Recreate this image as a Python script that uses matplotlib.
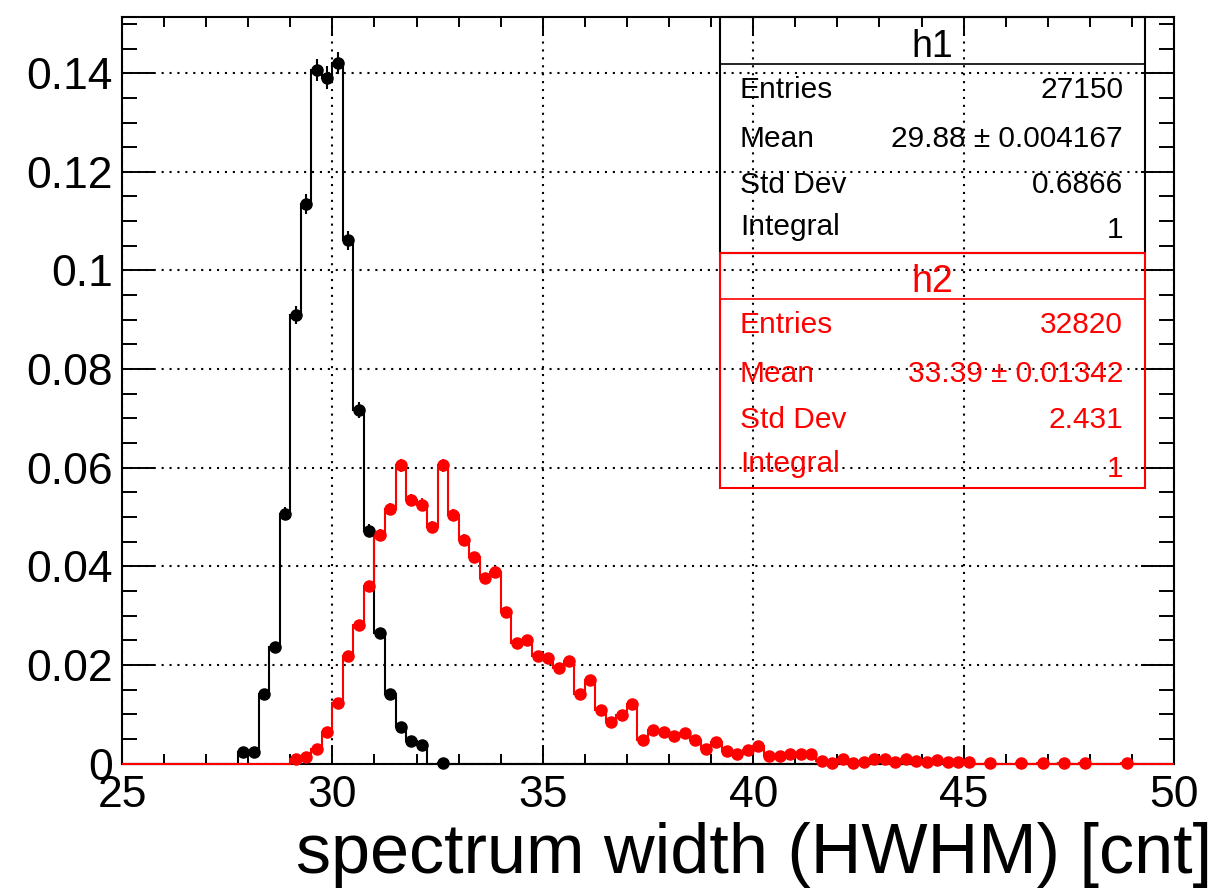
import numpy as np
import matplotlib
matplotlib.use('Agg')
import matplotlib.pyplot as plt
from matplotlib.ticker import MultipleLocator, FixedLocator, FixedFormatter
from matplotlib.patches import Rectangle
from matplotlib.lines import Line2D

plt.rcParams['font.family'] = ['Liberation Sans', 'DejaVu Sans']

W, H = 1220, 889

# ---------------- data ----------------
x_low, x_high, n_bins = 25.0, 50.0, 100

h1_first_bin = 11
h1_contents = [0.0023, 0.0023, 0.0140, 0.0236, 0.0507, 0.0909, 0.1135, 0.1406,
               0.1391, 0.1421, 0.1061, 0.0717, 0.0472, 0.0264, 0.0140, 0.0074,
               0.0045, 0.0037, 0.0, 0.00004]
h1_entries = 27150

h2_first_bin = 16
h2_contents = [0.0010, 0.0014, 0.0030, 0.0064, 0.0122, 0.0219, 0.0281, 0.0360,
               0.0463, 0.0516, 0.0605, 0.0534, 0.0525, 0.0479, 0.0605, 0.0504,
               0.0454, 0.0418, 0.0376, 0.0389, 0.0308, 0.0245, 0.0250, 0.0219,
               0.0213, 0.0193, 0.0208, 0.0140, 0.0169, 0.0108, 0.0084, 0.0098,
               0.0120, 0.0047, 0.0068, 0.0064, 0.0055, 0.0062, 0.0047, 0.0030,
               0.0043, 0.0025, 0.0020, 0.0028, 0.0035, 0.0016, 0.0015, 0.0020,
               0.0020, 0.0020, 0.0006, 0.0002, 0.0009, 0.0002, 0.0003, 0.0009,
               0.0009, 0.0003, 0.0009, 0.0006, 0.0003, 0.0007, 0.0003, 0.0003,
               0.0003, 0.0, 0.0001, 0.0, 0.0, 0.0001, 0.0, 0.0001, 0.0, 0.0001,
               0.0, 0.0001, 0.0, 0.0, 0.0, 0.0001]
h2_entries = 32820

x_ticks = [25, 30, 35, 40, 45, 50]
x_tick_labels = ['25', '30', '35', '40', '45', '50']
y_ticks = [0, 0.02, 0.04, 0.06, 0.08, 0.10, 0.12, 0.14]
y_tick_labels = ['0', '0.02', '0.04', '0.06', '0.08', '0.1', '0.12', '0.14']
x_title = 'spectrum width (HWHM) [cnt]'

stats_h1_name = 'h1'
stats_h1_rows = [('Entries', '27150'), ('Mean', '29.88 ± 0.004167'),
                 ('Std Dev', '0.6866'), ('Integral', '1')]
stats_h2_name = 'h2'
stats_h2_rows = [('Entries', '32820'), ('Mean', '33.39 ± 0.01342'),
                 ('Std Dev', '2.431'), ('Integral', '1')]

# ---------------- build histograms ----------------
edges = np.linspace(x_low, x_high, n_bins + 1)
centers = 0.5 * (edges[:-1] + edges[1:])


def full(first, contents):
    arr = np.zeros(n_bins)
    arr[first:first + len(contents)] = contents
    return arr


h1 = full(h1_first_bin, h1_contents)
h2 = full(h2_first_bin, h2_contents)
e1 = np.sqrt(h1 / h1_entries)
e2 = np.sqrt(h2 / h2_entries)


def fx(px):
    return px / W


def fy(py):
    return 1 - py / H


fig = plt.figure(figsize=(W / 100, H / 100), dpi=100)
ax_l, ax_r, ax_t, ax_b = 122, 1174, 17, 763.5
ax = fig.add_axes([fx(ax_l), fy(ax_b), (ax_r - ax_l) / W, (ax_b - ax_t) / H])

ax.set_xlim(x_low, x_high)
ax.set_ylim(0, 0.1514)

ax.grid(True, which='major', color='black', linestyle=(0, (1.0, 2.8)),
        linewidth=1.5)
ax.set_axisbelow(True)

for hist, err, col in [(h1, e1, 'black'), (h2, e2, '#ff0000')]:
    ax.stairs(hist, edges, color=col, linewidth=1.5, baseline=0,
              zorder=3, clip_on=False)
    m = hist > 0
    ax.errorbar(centers[m], hist[m], yerr=err[m], fmt='o', ms=8,
                color=col, mec=col, mfc=col, elinewidth=1.5, capsize=0,
                zorder=4, clip_on=False)

for s in ax.spines.values():
    s.set_linewidth(1.5)
    s.set_zorder(2.5)

ax.xaxis.set_major_locator(FixedLocator(x_ticks))
ax.xaxis.set_major_formatter(FixedFormatter(x_tick_labels))
ax.xaxis.set_minor_locator(MultipleLocator(1))
ax.yaxis.set_major_locator(FixedLocator(y_ticks))
ax.yaxis.set_major_formatter(FixedFormatter(y_tick_labels))
ax.yaxis.set_minor_locator(MultipleLocator(0.005))

ax.tick_params(which='both', direction='in', top=True, right=True, width=1.4,
               labelsize=32, colors='black')
ax.tick_params(axis='x', which='major', length=13.7, pad=8.3)
ax.tick_params(axis='x', which='minor', length=7)
ax.tick_params(axis='y', which='major', length=23.5, pad=6.5)
ax.tick_params(axis='y', which='minor', length=11)

fig.text(fx(1212), fy(873), x_title, ha='right', va='baseline', fontsize=50.5)

# ---------------- stats boxes ----------------
box_l, box_r = 720, 1145


def stats_box(top, title_line, bottom, col, name, rows, title_base,
              left_bases, right_bases):
    fig.add_artist(Rectangle((fx(box_l), fy(bottom)), (box_r - box_l) / W,
                             (bottom - top) / H, transform=fig.transFigure,
                             fill=False, edgecolor=col, linewidth=1.5,
                             zorder=5))
    fig.add_artist(Line2D([fx(box_l), fx(box_r)], [fy(title_line)] * 2,
                          transform=fig.transFigure, color=col,
                          linewidth=1.2, zorder=5))
    fig.text(fx((box_l + box_r) / 2), fy(title_base), name, ha='center',
             va='baseline', fontsize=27, color=col, zorder=6)
    for (lab, val), lb, rb in zip(rows, left_bases, right_bases):
        fig.text(fx(740), fy(lb), lab, ha='left', va='baseline',
                 fontsize=21.5, color=col, zorder=6)
        fig.text(fx(1123), fy(rb), val, ha='right', va='baseline',
                 fontsize=21.5, color=col, zorder=6)


stats_box(17, 64.3, 252.5, 'black', stats_h1_name, stats_h1_rows, 57,
          [98, 147, 193, 235], [98, 147, 193, 238])
stats_box(252.5, 299.3, 487.7, '#ff0000', stats_h2_name, stats_h2_rows, 292,
          [333, 382, 428, 472], [333, 382, 428, 477])

fig.savefig('out.png', dpi=100)
